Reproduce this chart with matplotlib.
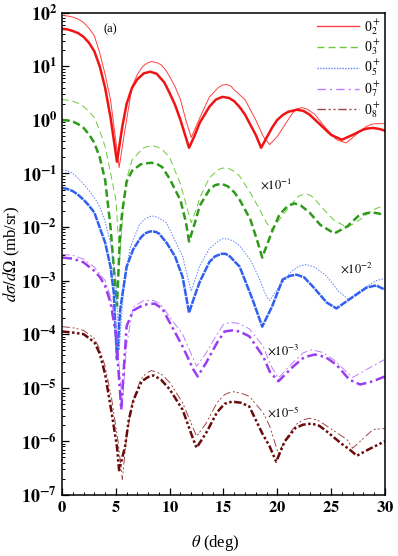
import matplotlib
matplotlib.use('Agg')
import matplotlib.pyplot as plt
from matplotlib.lines import Line2D
from matplotlib.ticker import FuncFormatter, MultipleLocator, LogLocator
import numpy as np

plt.rcParams['font.family'] = ['Liberation Serif', 'DejaVu Serif']
plt.rcParams['mathtext.fontset'] = 'stix'

# values, as log10(dsigma/dOmega in mb/sr), already scaled
x_02_thick = [0, 0.5, 1, 1.5, 2, 2.5, 3, 3.5, 4, 4.5, 5.1, 5.6, 6, 6.5, 7, 7.6, 8.2, 8.8, 9.5, 10,
              10.5, 11, 11.8, 12.3, 12.8, 13.7, 14.3, 14.9, 15.5, 16, 16.5, 17, 18, 18.5, 19.5, 20, 20.5, 21, 21.8, 22.4,
              23, 24, 25, 26, 27, 28, 28.4, 28.9, 29.5, 30]
y_02_thick = [1.70, 1.69, 1.66, 1.62, 1.55, 1.44, 1.28, 1.0, 0.6, 0.05, -0.78, -0.12, 0.3, 0.6, 0.76, 0.87, 0.90, 0.86, 0.70, 0.5,
              0.28, 0.0, -0.52, -0.3, -0.05, 0.25, 0.38, 0.43, 0.41, 0.35, 0.24, 0.10, -0.28, -0.52, -0.15, 0.0, 0.09, 0.15, 0.19, 0.17,
              0.10, -0.09, -0.28, -0.37, -0.28, -0.18, -0.16, -0.15, -0.17, -0.20]
x_02_thin = [0, 0.5, 1, 1.5, 2, 2.5, 3, 3.5, 4, 4.5, 5.0, 5.3, 5.8, 6.5, 7, 7.5, 7.9, 8.3, 8.8, 9.2,
             9.6, 10, 10.5, 11, 11.5, 12.0, 12.8, 13.7, 14.5, 14.9, 15.3, 15.7, 16, 17, 18, 18.7, 19.3, 20, 21, 21.5,
             21.9, 22.3, 22.8, 23.5, 24.5, 25.5, 26.4, 27.3, 28.3, 28.8, 29.2, 30]
y_02_thin = [1.95, 1.94, 1.92, 1.88, 1.82, 1.71, 1.57, 1.25, 0.85, 0.38, -0.4, -0.89, -0.24, 0.62, 0.85, 1.0, 1.06, 1.09, 1.07, 1.03,
             0.94, 0.81, 0.62, 0.38, 0.0, -0.33, 0.04, 0.43, 0.6, 0.65, 0.66, 0.63, 0.56, 0.38, 0.0, -0.31, -0.46, -0.31, 0.0, 0.15,
             0.21, 0.23, 0.2, 0.10, -0.15, -0.37, -0.43, -0.28, -0.12, -0.08, -0.07, -0.07]

x_03_thick = [0, 0.5, 1, 1.5, 2, 2.5, 3, 3.5, 4, 4.5, 4.8, 5.1, 5.4, 5.6, 6.0, 6.5, 7.3, 7.8, 8.3, 8.8,
              9.3, 10, 11, 11.5, 11.8, 12.3, 12.8, 13.7, 14.2, 14.8, 15.4, 16, 16.5, 17.5, 18.1, 18.6, 19.5, 20.2, 21, 21.6,
              22.2, 23, 24, 25.3, 26.5, 27.5, 28.3, 28.9, 29.5, 30]
y_03_thick = [0.0, -0.01, -0.03, -0.08, -0.15, -0.27, -0.43, -0.7, -1.12, -2.0, -2.74, -3.47, -2.1, -1.7, -1.15, -0.95, -0.83, -0.81, -0.8, -0.82,
              -0.88, -1.1, -1.5, -1.9, -2.27, -1.95, -1.6, -1.3, -1.22, -1.19, -1.24, -1.35, -1.49, -1.86, -2.23, -2.57, -2.09, -1.77, -1.6, -1.56,
              -1.6, -1.73, -1.96, -2.12, -1.99, -1.8, -1.74, -1.73, -1.75, -1.79]
x_03_thin = [0, 0.5, 1, 1.5, 2, 2.5, 3, 3.5, 4, 4.5, 5.0, 5.35, 5.7, 6.0, 6.5, 7.5, 7.9, 8.4, 8.9, 9.3,
             10, 11, 12.0, 12.5, 12.8, 13.7, 14.5, 14.9, 15.4, 16, 16.5, 17.5, 18.3, 19, 19.5, 20.2, 21.2, 22.0, 22.6, 23.1,
             23.5, 24, 25.2, 26.5, 27.7, 28.9, 29.5, 30]
y_03_thin = [0.38, 0.37, 0.35, 0.31, 0.25, 0.16, 0.04, -0.2, -0.5, -0.99, -1.49, -2.6, -1.6, -1.1, -0.75, -0.53, -0.5, -0.48, -0.51, -0.55,
             -0.7, -1.2, -1.92, -1.65, -1.45, -1.08, -0.93, -0.9, -0.9, -0.96, -1.05, -1.36, -1.65, -1.92, -2.05, -1.86, -1.6, -1.42, -1.38, -1.41,
             -1.48, -1.6, -1.86, -2.01, -1.86, -1.68, -1.63, -1.62]

x_05_thick = [0, 0.5, 1, 1.5, 2, 2.5, 3, 3.5, 4, 4.5, 4.8, 5.1, 5.4, 6.0, 6.6, 7.3, 7.7, 8.2, 8.7, 9.0,
              9.7, 10.5, 11.2, 11.8, 12.3, 12.8, 13.7, 14.2, 14.8, 15.2, 15.6, 16.5, 17.7, 18.6, 19.5, 20.5, 21.2, 21.8, 22.5, 23.3,
              24.6, 25.5, 26.7, 28.3, 29.2, 30]
y_05_thick = [-1.27, -1.29, -1.33, -1.4, -1.49, -1.6, -1.73, -2.01, -2.29, -2.74, -3.22, -4.47, -3.54, -2.74, -2.42, -2.2, -2.12, -2.08, -2.09, -2.12,
              -2.29, -2.55, -2.93, -3.6, -3.3, -3.02, -2.65, -2.55, -2.5, -2.5, -2.55, -2.74, -3.35, -3.86, -3.49, -2.98, -2.91, -2.89, -2.94, -3.11,
              -3.41, -3.52, -3.35, -3.13, -3.09, -3.17]
x_05_thin = [0, 0.5, 1, 1.5, 2, 2.5, 3, 3.5, 4, 4.5, 5.0, 5.3, 5.7, 6.3, 7.2, 7.7, 8.3, 8.9, 9.7, 11.2,
             12.0, 12.8, 13.7, 14.6, 14.9, 15.4, 16, 16.5, 17.5, 18.3, 19.0, 19.3, 20.2, 21.2, 22, 22.7, 23.5, 24.6, 25.7, 26.6,
             27.5, 28.3, 29.2, 30]
y_05_thin = [-0.93, -0.95, -1.0, -1.09, -1.2, -1.32, -1.45, -1.62, -1.9, -2.3, -3.0, -4.3, -3.2, -2.4, -1.95, -1.85, -1.79, -1.82, -1.92, -2.55,
             -3.2, -2.72, -2.4, -2.25, -2.22, -2.22, -2.27, -2.35, -2.61, -2.95, -3.3, -3.37, -3.11, -2.85, -2.73, -2.70, -2.75, -2.92, -3.2, -3.35,
             -3.22, -3.11, -3.0, -2.96]

x_07_thick = [0, 1, 2, 3, 3.5, 4, 4.5, 5.0, 5.5, 5.75, 6.0, 6.6, 7.5, 8.0, 8.6, 9.3, 10, 11.2, 12.2, 12.6,
              13.4, 14.4, 15.1, 15.8, 16.5, 17.4, 18.7, 19.3, 20.1, 21.5, 22.5, 23.5, 24.5, 25.5, 26.7, 27.7, 28.9, 29.5, 30]
y_07_thick = [-2.57, -2.59, -2.66, -2.82, -2.93, -3.1, -3.41, -4.0, -5.41, -4.6, -3.85, -3.56, -3.46, -3.44, -3.43, -3.52, -3.78, -4.23, -4.66, -4.79,
              -4.53, -4.16, -3.95, -3.93, -3.95, -4.04, -4.42, -4.70, -4.88, -4.6, -4.43, -4.38, -4.43, -4.57, -4.85, -4.94, -4.88, -4.83, -4.79]
x_07_thin = [0, 1, 2, 3, 4, 4.5, 5.0, 5.6, 6.0, 6.6, 7.5, 8.0, 8.5, 9.2, 10, 11.2, 12.5, 13.4, 14.4, 15.0,
             15.6, 16.4, 17.4, 18.7, 19.3, 20.1, 21.5, 22.4, 23.2, 24.2, 25.2, 27.0, 28.3, 30]
y_07_thin = [-2.51, -2.53, -2.6, -2.75, -3.0, -3.3, -3.85, -5.3, -4.2, -3.5, -3.38, -3.37, -3.37, -3.45, -3.68, -4.0, -4.6, -4.35, -4.0, -3.82,
             -3.78, -3.8, -3.9, -4.23, -4.55, -4.82, -4.52, -4.35, -4.29, -4.34, -4.47, -4.81, -4.66, -4.47]

x_08_thick = [0, 1, 2, 3, 3.5, 4, 4.6, 5.1, 5.3, 5.85, 6.2, 6.65, 7.4, 8.0, 8.5, 9.2, 10, 11.2, 12.2, 12.5,
              13.4, 14.4, 15.1, 15.8, 16.6, 17.4, 18.6, 19.3, 19.9, 20.7, 21.7, 22.4, 23.2, 23.9, 24.5, 26, 26.7, 27.4, 28.5, 30]
y_08_thick = [-3.95, -3.97, -4.0, -4.15, -4.36, -4.75, -5.46, -6.1, -6.54, -6.1, -5.6, -5.22, -4.88, -4.8, -4.77, -4.85, -5.03, -5.41, -5.97, -6.12,
              -5.84, -5.46, -5.3, -5.26, -5.28, -5.35, -5.85, -6.1, -6.38, -6.0, -5.75, -5.69, -5.67, -5.71, -5.8, -6.05, -6.15, -6.27, -6.15, -6.0]
x_08_thin = [0, 1, 2, 3, 3.5, 4, 4.6, 5.2, 5.6, 6.0, 6.5, 7.3, 7.8, 8.3, 9.2, 10, 11.2, 12.5, 13.4, 14.4,
             15.1, 15.8, 16.6, 17.4, 18.7, 19.3, 20.1, 20.8, 21.8, 22.4, 23.0, 23.7, 24.5, 26.5, 27.0, 28.9, 30]
y_08_thin = [-3.86, -3.88, -3.93, -4.08, -4.28, -4.6, -5.2, -6.0, -6.71, -5.9, -5.3, -4.85, -4.73, -4.68, -4.74, -4.9, -5.28, -5.91, -5.66, -5.28,
             -5.13, -5.07, -5.1, -5.16, -5.47, -5.72, -6.23, -5.95, -5.68, -5.6, -5.57, -5.6, -5.7, -5.97, -6.13, -5.78, -5.76]

labels = [r'0$_2^+$', r'0$_3^+$', r'0$_5^+$', r'0$_7^+$', r'0$_8^+$']
scale_notes = [r'$\times10^{-1}$', r'$\times10^{-2}$', r'$\times10^{-3}$', r'$\times10^{-5}$']
note_pos = [(0.613, 0.645), (0.861, 0.469), (0.635, 0.299), (0.635, 0.170)]

thick_colors = ['#f01414', '#2e9a1a', '#3060f0', '#9a3cf0', '#6a0a0a']
thin_colors = ['#ff4040', '#6cc83c', '#5a82ff', '#c07cff', '#9a4646']
thick_styles = ['-', (0, (3, 1.5)), (0, (3, 0.4)), (0, (4, 1.5, 1, 1.5)), (0, (3, 1, 1, 1, 1, 1))]
thin_styles = ['-', (0, (7, 4)), (0, (1.5, 1.5)), (0, (8, 3, 2, 3)), (0, (8, 3, 2, 2, 2, 3))]
leg_styles = ['-', (0, (5, 3)), (0, (1, 1)), (0, (6, 3, 1.5, 3)), (0, (6, 2, 1.5, 2, 1.5, 2))]

thick = [(x_02_thick, y_02_thick), (x_03_thick, y_03_thick), (x_05_thick, y_05_thick),
         (x_07_thick, y_07_thick), (x_08_thick, y_08_thick)]
thin = [(x_02_thin, y_02_thin), (x_03_thin, y_03_thin), (x_05_thin, y_05_thin),
        (x_07_thin, y_07_thin), (x_08_thin, y_08_thin)]

fig = plt.figure(figsize=(3.98, 5.56), dpi=100)
ax = fig.add_axes([0.156, 0.110, 0.811, 0.867])

for i in range(5):
    xs, ys = thin[i]
    ax.plot(xs, 10 ** np.array(ys), color=thin_colors[i], lw=0.7, linestyle=thin_styles[i])
    xs, ys = thick[i]
    ax.plot(xs, 10 ** np.array(ys), color=thick_colors[i], lw=1.8, linestyle=thick_styles[i])

ax.set_yscale('log')
ax.set_xlim(0, 30)
ax.set_ylim(1e-7, 1e2)

ax.xaxis.set_major_locator(MultipleLocator(5))
ax.xaxis.set_minor_locator(MultipleLocator(1))
ax.xaxis.set_major_formatter(FuncFormatter(lambda v, p: r'$\mathbf{%d}$' % int(round(v))))
ax.yaxis.set_major_locator(LogLocator(base=10, numticks=20))
ax.yaxis.set_minor_locator(LogLocator(base=10, subs=np.arange(2, 10), numticks=20))
ax.yaxis.set_major_formatter(FuncFormatter(lambda v, p: r'$\mathbf{10^{%d}}$' % int(round(np.log10(v)))))
ax.tick_params(which='major', direction='in', length=5, width=0.9, labelsize=12)
ax.tick_params(which='minor', direction='in', length=2.5, width=0.7)
ax.tick_params(axis='y', labelsize=13)
for sp in ax.spines.values():
    sp.set_linewidth(1.1)

ax.set_xlabel(r'$\theta$ (deg)', fontsize=12)
ax.set_ylabel(r'$d\sigma/d\Omega$ (mb/sr)', fontsize=12)
ax.xaxis.set_label_coords(0.475, -0.08)
ax.yaxis.set_label_coords(-0.125, 0.5)

ax.text(0.149, 0.965, '(a)', transform=ax.transAxes, fontsize=9, ha='center', va='center')
for t, (px, py) in zip(scale_notes, note_pos):
    ax.text(px, py, t, transform=ax.transAxes, fontsize=9, ha='left', va='center')

handles = [Line2D([], [], color=thin_colors[i], lw=1.0, linestyle=leg_styles[i]) for i in range(5)]
ax.legend(handles, labels, loc='upper right', frameon=False, fontsize=10, handlelength=3.0,
          handletextpad=0.35, labelspacing=0.05, borderaxespad=0.0, borderpad=0.3)

plt.savefig('out.png', dpi=100)
